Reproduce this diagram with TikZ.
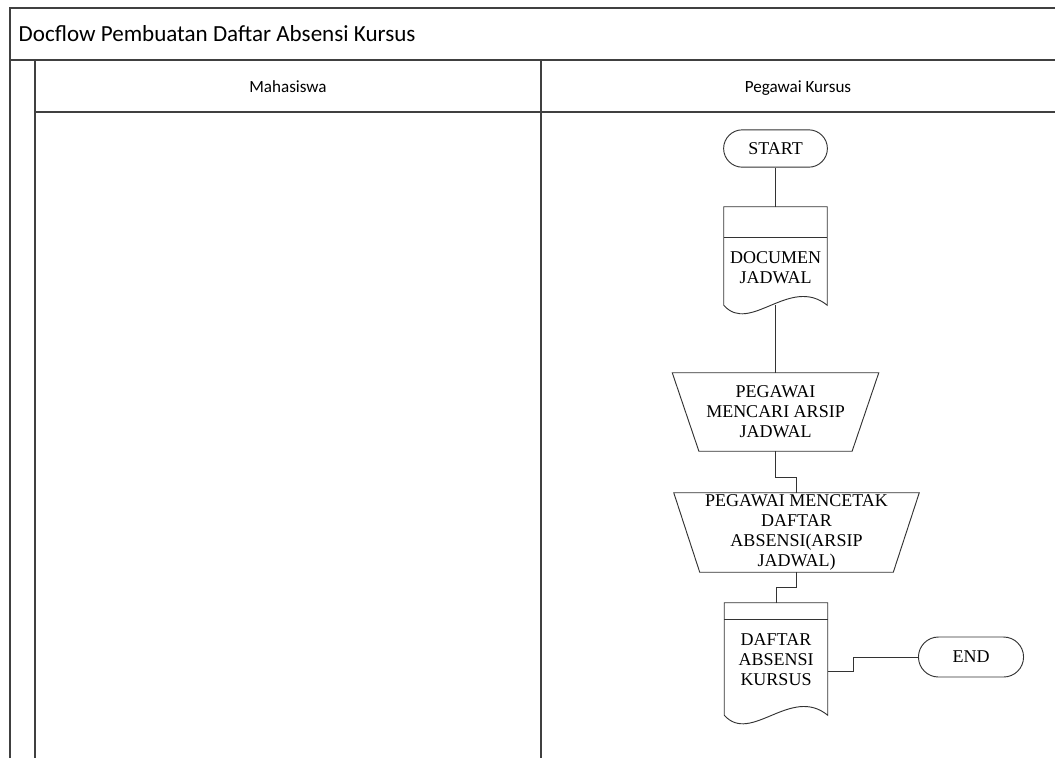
\documentclass[tikz,border=0pt]{standalone}
\usepackage{fontspec}
\setmainfont{Liberation Serif}
\newfontfamily\calibri{Carlito}
\usetikzlibrary{shapes.misc}
\tikzset{
  frame/.style={black!75,line width=0.9pt},
  flow/.style={black!80,line width=0.7pt},
  term/.style={rounded rectangle,draw=black!80,line width=0.7pt,minimum width=84.5pt,minimum height=28pt,font=\fontsize{13.5}{15}\selectfont},
  docbox/.style={rectangle,draw=none,minimum width=77.25pt,inner sep=0pt},
  doctext/.style={align=center,font=\fontsize{13.5}{15}\selectfont},
  manual/.style={rectangle,draw=none,align=center,inner sep=1pt,font=\fontsize{13.5}{15}\selectfont}
}
\begin{document}
\begin{tikzpicture}[x=0.75pt,y=-0.75pt]
\useasboundingbox (0,0) rectangle (1055,758);
% swimlane frame
\draw[frame] (10,758) -- (10,8) -- (1055,8);
\draw[frame] (10,60) -- (1055,60);
\draw[frame] (35,60) -- (35,758);
\draw[frame] (35,112) -- (1055,112);
\draw[frame] (541,60) -- (541,758);
\node[anchor=base west,font=\calibri\fontsize{17.3}{20}\selectfont] (title) at (14,41) {Docflow Pembuatan Daftar Absensi Kursus};
\node[anchor=base,font=\calibri\fontsize{12.8}{15}\selectfont] (mhs) at (288,92) {Mahasiswa};
\node[anchor=base,font=\calibri\fontsize{12.8}{15}\selectfont] (pgw) at (798,92) {Pegawai Kursus};

% flow
\node[term] (start) at (775.5,148.5) {START};
\node[docbox,minimum height=73.5pt] (docjadwal) at (775.5,256) {};
\draw[flow] (docjadwal.south west) -- (docjadwal.north west) -- (docjadwal.north east) -- (docjadwal.south east)
  .. controls (790,275) and (750,335) .. (docjadwal.south west);
\draw[flow] (724,237) -- (827,237);
\node[doctext] (docjadwaltext) at (775.5,268) {DOCUMEN\\JADWAL};

\node[manual,minimum width=154.5pt,minimum height=58.5pt] (cariarsip) at (775.5,412) {PEGAWAI\\MENCARI ARSIP\\JADWAL};
\draw[flow] (cariarsip.north west) -- (cariarsip.north east) -- ([xshift=-20pt]cariarsip.south east) -- ([xshift=20pt]cariarsip.south west) -- cycle;
\node[manual,minimum width=183.75pt,minimum height=59.25pt] (cetakabsensi) at (796.5,532.5) {PEGAWAI MENCETAK\\DAFTAR\\ABSENSI(ARSIP\\JADWAL)};
\draw[flow] (cetakabsensi.north west) -- (cetakabsensi.north east) -- ([xshift=-19.5pt]cetakabsensi.south east) -- ([xshift=19.5pt]cetakabsensi.south west) -- cycle;

\node[docbox,minimum height=84pt] (daftarabsensi) at (776,659) {};
\draw[flow] (daftarabsensi.south west) -- (daftarabsensi.north west) -- (daftarabsensi.north east) -- (daftarabsensi.south east)
  .. controls (791,685) and (751,745) .. (daftarabsensi.south west);
\draw[flow] (724,619) -- (828,619);
\node[doctext] (daftarabsensitext) at (776,660) {DAFTAR\\ABSENSI\\KURSUS};

\node[term,minimum width=85.5pt,minimum height=30pt] (finish) at (971,657) {END};

% connectors
\draw[flow] (start.south) -- (docjadwal.north);
\draw[flow] (docjadwal.south) -- (cariarsip.north);
\draw[flow] (cariarsip.south) -- ++(0,26) -| (cetakabsensi.north);
\draw[flow] (cetakabsensi.south) -- ++(0,15) -| (daftarabsensi.north);
\draw[flow] ([yshift=-9pt]daftarabsensi.east) -- ++(26,0) |- (finish.west);
\end{tikzpicture}
\end{document}
